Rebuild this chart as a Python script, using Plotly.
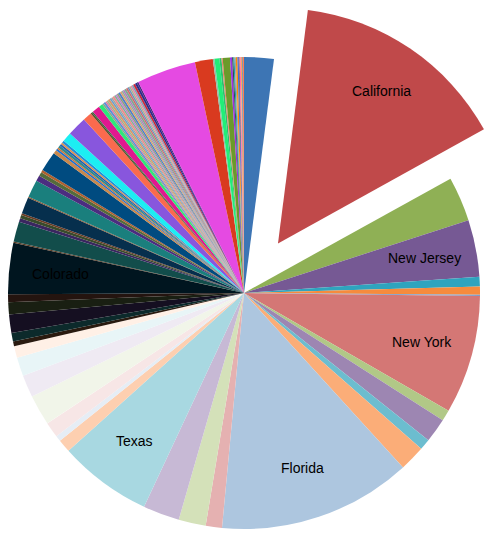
import math
import plotly.graph_objects as go

# ---------------- data (clockwise from 12 o'clock) ----------------
labels = [
    "Arizona", "California", "Pennsylvania", "New Jersey", "Nevada", "Oregon",
    "Maine", "New York", "Connecticut", "Massachusetts", "Maryland", "Illinois",
    "Florida", "Virginia", "North Carolina", "Georgia", "Texas", "Louisiana",
    "Kansas", "Tennessee", "Washington", "Michigan", "Ohio", "Missouri",
    "Utah", "Minnesota", "Wisconsin", "Indiana", "Alabama", "Colorado",
    "Oklahoma", "Kentucky", "South Carolina", "Iowa", "Arkansas", "Hawaii",
    "Idaho", "New Mexico", "Nebraska", "Mississippi", "New Hampshire", "Montana",
    "Rhode Island", "Delaware", "Vermont", "West Virginia", "Wyoming", "Alaska",
    "North Dakota",
    "South Dakota", "District of Columbia", "Puerto Rico", "Guam",
    "U.S. Virgin Islands", "Ontario", "British Columbia",
    "Alberta", "Saskatchewan", "Manitoba", "Quebec", "New Brunswick", "Nova Scotia",
    "Prince Edward Island", "Newfoundland and Labrador", "Yukon",
    "Northwest Territories", "Nunavut", "American Samoa", "Northern Mariana Islands",
    "Armed Forces Americas", "Armed Forces Europe", "Armed Forces Pacific",
    "Mexico", "United Kingdom", "Germany", "France", "Japan", "Australia",
    "India", "China",
    "Other", "Unknown",
    "Brazil", "Italy", "Spain", "Netherlands", "Sweden", "Israel", "South Korea",
    "Ireland", "Switzerland", "Singapore", "Norway", "Denmark", "Belgium",
    "Austria", "New Zealand", "Philippines",
]

values = [
    73, 537, 110, 140, 24, 20,
    3, 292, 27, 60, 27, 63,
    477, 40, 67, 90, 230, 32,
    14, 38, 75, 55, 46, 29,
    12, 21, 45, 30, 19, 126,
    3, 50, 9, 8, 5, 40,
    3, 43, 14, 10, 6, 49,
    9, 5, 4, 6, 5, 4,
    6,
    23, 48, 22, 4,
    3, 19, 10,
    4, 5, 4, 4, 5, 4,
    4, 5, 4,
    4, 4, 5, 4,
    4, 4, 5,
    4, 4, 4, 4, 4, 5,
    5, 4,
    146, 44,
    4, 12, 5, 3, 18, 5, 3,
    3, 3, 4, 3, 2, 3,
    3, 2, 3,
]

colors = [
    "#3d75b4", "#c0494a", "#8fb055", "#765994", "#2fa4be", "#f68b3d",
    "#7b9fcc", "#d47775", "#b1c887", "#9d86b2", "#6cbdcf", "#fbad78",
    "#adc6df", "#e5b1b1", "#d4e1b9", "#c7b9d5", "#a8d8e1", "#fdcfb0",
    "#e6edf5", "#f7e6e6", "#f1f5e9", "#efeaf3", "#e8f5f7", "#fff0e6",
    "#2a1a0f", "#0c2a2b", "#150f21", "#191f12", "#24140f", "#00151f",
    "#5a3a22", "#124d4b", "#3a2660", "#384b2b", "#6a3a22", "#062f4d",
    "#8a5530", "#1a7f7d", "#4b2d80", "#546b3b", "#b0602e", "#004b80",
    "#c8884c", "#1e6fd0", "#d0783a", "#2f8a8a", "#1f5fb0", "#e09050",
    "#1e90d8",
    "#1ceef2", "#8856dd", "#fa6a4e", "#5b4a28",
    "#2b6b3b", "#e0188f", "#2ee87a",
    "#8aa88a", "#5b8fd8", "#e37aa0", "#9fb48a", "#d89a6a", "#6a9fd0",
    "#a0a8a0", "#f08c8c", "#7fb09a",
    "#c080d0", "#8fa07a", "#4f7fc8", "#e0a070",
    "#90b0a0", "#b07ac0", "#80a890",
    "#d06a6a", "#6f8fc0", "#a8b890", "#e88aa8", "#7aa0b8", "#c8283a",
    "#2a2a8a", "#4b2d80",
    "#e54ae2", "#d93a1f",
    "#8fc0a8", "#22ee77", "#2cc070", "#f08070", "#6b9a2a", "#9b30e0", "#2f4f4f",
    "#20a0a0", "#a0a0a0", "#ff8c00", "#4169e1", "#505050", "#ff69b4",
    "#f4a460", "#4682b4", "#ff7f50",
]

shown_labels = ["California", "New Jersey", "New York", "Florida", "Texas", "Colorado"]
pulled_label = "California"

# ---------------- geometry (pixels, page coordinates) ----------------
OFF = 8                      # page body margin in front of the plot div
H = 547
R = 236.0
CX, CY = OFF + R, 293.0      # pie centre on the page
PULL_PX = 60.5
LABEL_FRAC = 0.78

total = sum(values)


def mid_angle(i):
    return (sum(values[:i]) + values[i] / 2) / total * 2 * math.pi


ip = labels.index(pulled_label)
PX = CX + PULL_PX * math.sin(mid_angle(ip))
PY = CY - PULL_PX * math.cos(mid_angle(ip))

W = int(math.ceil(max(CX + R, PX + R) - OFF)) + 1


def dom(cx, cy, r):
    fx, fy = cx - OFF, cy - OFF
    return dict(x=[max(0, (fx - r) / W), min(1, (fx + r) / W)],
                y=[max(0, (H - (fy + r)) / H), min(1, (H - (fy - r)) / H)])


font = dict(family="Liberation Sans, Arial, Helvetica, sans-serif", size=14, color="black")
transparent = "rgba(0,0,0,0)"

main_colors = [transparent if l == pulled_label else c for l, c in zip(labels, colors)]
pull_colors = [c if l == pulled_label else transparent for l, c in zip(labels, colors)]

fig = go.Figure()
fig.add_trace(go.Pie(
    labels=labels, values=values, sort=False, direction="clockwise", rotation=0,
    marker=dict(colors=main_colors, line=dict(width=0)),
    textinfo="none", domain=dom(CX, CY, R), showlegend=False,
))
fig.add_trace(go.Pie(
    labels=labels, values=values, sort=False, direction="clockwise", rotation=0,
    marker=dict(colors=pull_colors, line=dict(width=0)),
    textinfo="none", domain=dom(PX, PY, R), showlegend=False, hoverinfo="skip",
))

# slice labels, placed along each slice's bisector
for name in shown_labels:
    i = labels.index(name)
    a = mid_angle(i)
    ox, oy = (PX, PY) if name == pulled_label else (CX, CY)
    sx = ox + LABEL_FRAC * R * math.sin(a)
    sy = oy - LABEL_FRAC * R * math.cos(a)
    fig.add_annotation(
        x=(sx - OFF) / W, y=(H - (sy - OFF)) / H, xref="paper", yref="paper",
        text=name, showarrow=False, font=font, xanchor="center", yanchor="middle",
    )

fig.update_layout(
    width=W, height=H, margin=dict(l=0, r=0, t=0, b=0),
    paper_bgcolor="white", plot_bgcolor="white",
)
fig.write_html("out.html")
